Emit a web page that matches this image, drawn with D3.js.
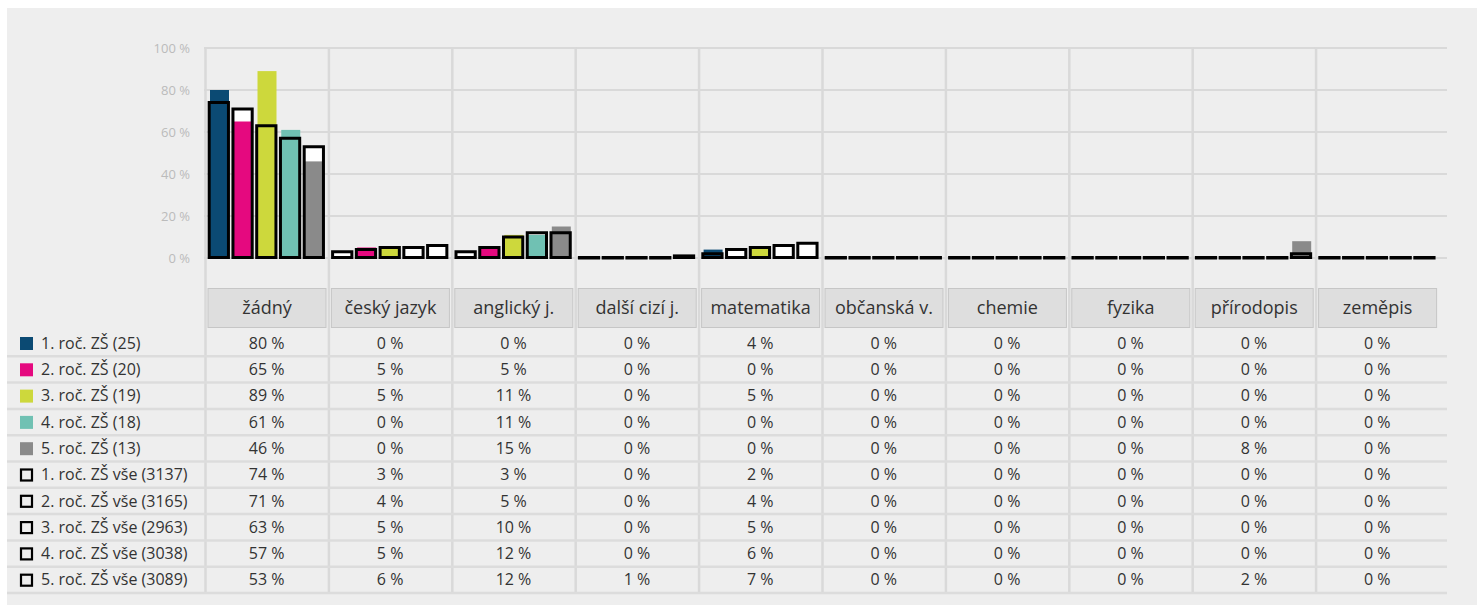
<!DOCTYPE html>
<html lang="cs">
<head>
<meta charset="UTF-8">
<title>Předměty</title>
<script src="https://d3js.org/d3.v7.min.js"></script>
<style>
  body { margin: 0; background: #fff; font-family: "Open Sans", sans-serif; }
</style>
</head>
<body>
<div id="chart"></div>
<script>
// categories (school subjects)
var categories = ["žádný", "český jazyk", "anglický j.", "další cizí j.", "matematika",
                  "občanská v.", "chemie", "fyzika", "přírodopis", "zeměpis"];

// sample series (colored bars)
var sampleLabels = ["1. roč. ZŠ (25)", "2. roč. ZŠ (20)", "3. roč. ZŠ (19)", "4. roč. ZŠ (18)", "5. roč. ZŠ (13)"];
var sampleColors = ["#0b4a73", "#e5097f", "#cdd83c", "#70c1b3", "#8a8a8a"];
var sample1 = [80, 0, 0, 0, 4, 0, 0, 0, 0, 0];
var sample2 = [65, 5, 5, 0, 0, 0, 0, 0, 0, 0];
var sample3 = [89, 5, 11, 0, 5, 0, 0, 0, 0, 0];
var sample4 = [61, 0, 11, 0, 0, 0, 0, 0, 0, 0];
var sample5 = [46, 0, 15, 0, 0, 0, 0, 0, 8, 0];

// whole population series (outlined bars)
var allLabels = ["1. roč. ZŠ vše (3137)", "2. roč. ZŠ vše (3165)", "3. roč. ZŠ vše (2963)",
                 "4. roč. ZŠ vše (3038)", "5. roč. ZŠ vše (3089)"];
var all1 = [74, 3, 3, 0, 2, 0, 0, 0, 0, 0];
var all2 = [71, 4, 5, 0, 4, 0, 0, 0, 0, 0];
var all3 = [63, 5, 10, 0, 5, 0, 0, 0, 0, 0];
var all4 = [57, 5, 12, 0, 6, 0, 0, 0, 0, 0];
var all5 = [53, 6, 12, 1, 7, 0, 0, 0, 2, 0];

var yTicks = [0, 20, 40, 60, 80, 100];

var samples = [sample1, sample2, sample3, sample4, sample5];
var alls = [all1, all2, all3, all4, all5];

var W = 1477, H = 605;
var svg = d3.select("#chart").append("svg").attr("width", W).attr("height", H);

// grey panel
svg.append("rect").attr("x", 7).attr("y", 8).attr("width", W - 7).attr("height", H - 8).attr("fill", "#eeeeee");

var x = d3.scaleBand().domain(categories).range([206, 1440]);
var slot = d3.scaleBand().domain(d3.range(5)).range([1.5, 120.25]);
var y = d3.scaleLinear().domain([0, 100]).range([258, 48]);

var rowNames = sampleLabels.concat(allLabels);
var rows = d3.scaleBand().domain(rowNames).range([330, 593]);

// horizontal gridlines
svg.append("g").selectAll("line").data(yTicks).enter().append("line")
  .attr("x1", 204).attr("x2", 1447)
  .attr("y1", function (d) { return y(d); }).attr("y2", function (d) { return y(d); })
  .attr("stroke", "#d9d9d9").attr("stroke-width", 2);

// vertical column lines
svg.append("g").selectAll("line").data(categories).enter().append("line")
  .attr("x1", function (d) { return x(d) - 0.5; }).attr("x2", function (d) { return x(d) - 0.5; })
  .attr("y1", 47).attr("y2", 593)
  .attr("stroke", "#d9d9d9").attr("stroke-width", 2.5);

// table row separators
svg.append("g").selectAll("line").data(rowNames).enter().append("line")
  .attr("x1", 7).attr("x2", 1447)
  .attr("y1", function (d) { return rows(d) + rows.bandwidth(); })
  .attr("y2", function (d) { return rows(d) + rows.bandwidth(); })
  .attr("stroke", "#dcdcdc").attr("stroke-width", 2.5);

// y axis
var yAxis = svg.append("g").attr("transform", "translate(190,0)")
  .call(d3.axisLeft(y).tickValues(yTicks).tickSize(0).tickPadding(0).tickFormat(function (d) { return d + " %"; }));
yAxis.select(".domain").remove();
yAxis.selectAll("text").attr("fill", "#bbbbbb").style("font-family", "Open Sans").style("font-size", "13px");

// bars
var bars = svg.append("g");
categories.forEach(function (cat, ci) {
  for (var s = 0; s < 5; s++) {
    var x0 = x(cat) + slot(s);
    var bw = slot.bandwidth();
    var va = alls[s][ci], vs = samples[s][ci];
    // white fill of outlined bar
    if (va > 0) {
      bars.append("rect").attr("x", x0 + 1.7).attr("y", y(va)).attr("width", bw - 4.5)
        .attr("height", y(0) - y(va)).attr("fill", "#ffffff");
    }
    // colored bar
    if (vs > 0) {
      bars.append("rect").attr("x", x0 + 2.5).attr("y", y(vs)).attr("width", bw - 4.75)
        .attr("height", y(0) - y(vs)).attr("fill", sampleColors[s]);
    }
    // black outline (path so that zero height still shows a line)
    var yt = y(va), yb = y(0) - 0.5, xl = x0 + 1.7, xr = x0 + bw - 2.8;
    bars.append("path")
      .attr("d", "M" + xl + "," + yb + "V" + yt + "H" + xr + "V" + yb + "Z")
      .attr("fill", "none").attr("stroke", "#000").attr("stroke-width", 3);
  }
});

// header boxes
var head = svg.append("g").selectAll("g").data(categories).enter().append("g")
  .attr("transform", function (d) { return "translate(" + x(d) + ",0)"; });
head.append("rect").attr("x", 2).attr("y", 288.5).attr("width", 118).attr("height", 39)
  .attr("fill", "#dedede").attr("stroke", "#c6c6c6").attr("stroke-width", 1);
head.append("text").attr("x", 61).attr("y", 308).attr("dy", "0.35em")
  .attr("text-anchor", "middle").attr("fill", "#333").style("font-size", "18px")
  .text(function (d) { return d; });

// legend column
var leg = svg.append("g").selectAll("g").data(rowNames).enter().append("g")
  .attr("transform", function (d) { return "translate(0," + rows(d) + ")"; });
leg.each(function (d, i) {
  var g = d3.select(this);
  if (i < 5) {
    g.append("rect").attr("x", 20).attr("y", 7).attr("width", 13).attr("height", 13).attr("fill", sampleColors[i]);
  } else {
    g.append("rect").attr("x", 21).attr("y", 8).attr("width", 11).attr("height", 11)
      .attr("fill", "none").attr("stroke", "#000").attr("stroke-width", 2.2);
  }
});
leg.append("text").attr("x", 41).attr("y", rows.bandwidth() / 2).attr("dy", "0.35em")
  .attr("fill", "#333").style("font-size", "16px").text(function (d) { return d; });

// value cells
var allSeries = samples.concat(alls);
var cells = svg.append("g");
rowNames.forEach(function (rn, ri) {
  categories.forEach(function (cat, ci) {
    cells.append("text")
      .attr("x", x(cat) + x.bandwidth() / 2 - 1)
      .attr("y", rows(rn) + rows.bandwidth() / 2).attr("dy", "0.35em")
      .attr("text-anchor", "middle").attr("fill", "#333").style("font-size", "16px")
      .text(allSeries[ri][ci] + " %");
  });
});
</script>
</body>
</html>
